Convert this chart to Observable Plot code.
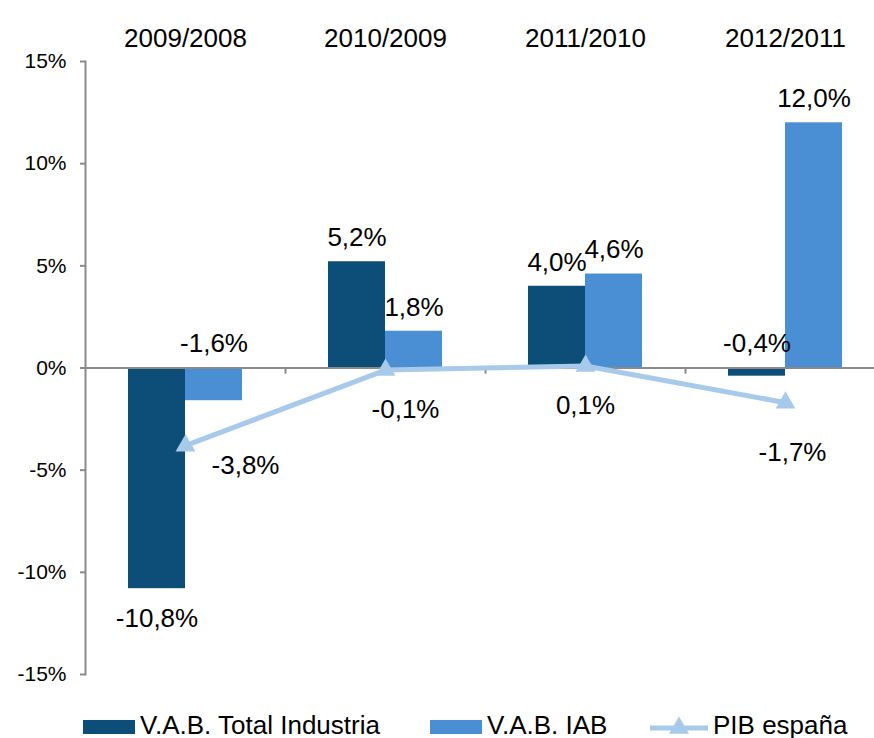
<!DOCTYPE html>
<html>
<head>
<meta charset="utf-8">
<script src="https://cdn.jsdelivr.net/npm/d3@7"></script>
<script src="https://cdn.jsdelivr.net/npm/@observablehq/plot@0.6"></script>
<style>
  html, body { margin: 0; padding: 0; background: #fff; overflow: hidden; }
  body { font-family: "Liberation Sans", Arial, sans-serif; width: 874px; height: 738px; }
  #legend { position: relative; height: 50px; font-size: 26px; color: #000; }
  .item { position: absolute; top: 0; height: 50px; display: flex; align-items: center; white-space: nowrap; }
  .item svg { margin-right: 5px; position: relative; top: 2px; }
</style>
</head>
<body>
<div id="chart"></div>
<div id="legend"></div>
<script>
const categories = ["2009/2008", "2010/2009", "2011/2010", "2012/2011"];
const vabIndustria = [-10.8, 5.2, 4.0, -0.4];
const vabIAB = [-1.6, 1.8, 4.6, 12.0];
const pibEspana = [-3.8, -0.1, 0.1, -1.7];
const yTicks = [-15, -10, -5, 0, 5, 10, 15];
const seriesNames = ["V.A.B. Total Industria", "V.A.B. IAB", "PIB españa"];

const colDark = "#0C4E78";
const colLight = "#4A8FD4";
const colLine = "#A7C9EA";
const colAxis = "#8A8A8A";
const font = "'Liberation Sans', Arial, sans-serif";

const rows = categories.map((c, i) => ({cat: c, ind: vabIndustria[i], iab: vabIAB[i], pib: pibEspana[i]}));
const fmt = v => v.toFixed(1).replace(".", ",") + "%";

// manual nudges of PIB labels (as placed in the reference)
const pibNudge = [[60, 20], [20, 40], [0, 40], [7, 50]];

const chart = Plot.plot({
  width: 874,
  height: 700,
  marginLeft: 85,
  marginRight: -11,
  marginTop: 61,
  marginBottom: 26,
  style: {fontFamily: font, color: "#000", background: "#fff"},
  x: {domain: categories, paddingInner: 0.43, paddingOuter: 0.215, round: false, axis: null},
  y: {domain: [-15, 15], axis: null},
  marks: [
    Plot.axisY({ticks: yTicks, tickFormat: d => d + "%", tickSize: 5, tickPadding: 14, fontSize: 21, stroke: colAxis, strokeWidth: 2, fill: "#000"}),
    Plot.frame({anchor: "left", stroke: colAxis, strokeWidth: 2}),
    Plot.barY(rows, {x: "cat", y: "ind", fill: colDark, insetRight: 57}),
    Plot.barY(rows, {x: "cat", y: "iab", fill: colLight, insetLeft: 57}),
    Plot.ruleY([0], {stroke: colAxis, strokeWidth: 2}),
    Plot.ruleX(categories.slice(1), {x: d => d, dx: -100, y1: 0, y2: -0.3, stroke: colAxis, strokeWidth: 2}),
    Plot.line(rows, {x: "cat", y: "pib", stroke: colLine, strokeWidth: 5}),
    Plot.dot(rows, {x: "cat", y: "pib", symbol: "triangle2", r: 9.5, fill: colLine, stroke: null}),
    // category labels on top
    Plot.text(categories, {x: d => d, frameAnchor: "top", dy: -33, fontSize: 26, fill: "#000"}),
    // bar labels
    Plot.text(rows, {filter: d => d.ind >= -5, x: "cat", y: d => Math.max(d.ind, 0), text: d => fmt(d.ind), dx: -28.5, dy: -24, fontSize: 26, fill: "#000"}),
    Plot.text(rows, {filter: d => d.ind < -5, x: "cat", y: "ind", text: d => fmt(d.ind), dx: -28.5, dy: 30, fontSize: 26, fill: "#000"}),
    Plot.text(rows, {filter: d => d.iab >= -5, x: "cat", y: d => Math.max(d.iab, 0), text: d => fmt(d.iab), dx: 28.5, dy: -24, fontSize: 26, fill: "#000"}),
    ...rows.map((r, i) => Plot.text([r], {x: "cat", y: "pib", text: d => fmt(d.pib), dx: pibNudge[i][0], dy: pibNudge[i][1], fontSize: 26, fill: "#000"}))
  ]
});
document.getElementById("chart").appendChild(chart);

// legend
const legend = document.getElementById("legend");
const lefts = [83, 430, 650];
const swatches = [
  `<svg width="52" height="14"><rect width="52" height="14" fill="${colDark}"/></svg>`,
  `<svg width="52" height="14"><rect width="52" height="14" fill="${colLight}"/></svg>`,
  `<svg width="58" height="22"><line x1="0" x2="58" y1="12" y2="12" stroke="${colLine}" stroke-width="5"/><path d="${d3.symbol(d3.symbolTriangle2, 286)()}" transform="translate(29,12)" fill="${colLine}"/></svg>`
];
seriesNames.forEach((name, i) => {
  const el = document.createElement("div");
  el.className = "item";
  el.style.left = lefts[i] + "px";
  el.innerHTML = swatches[i] + `<span>${name}</span>`;
  legend.appendChild(el);
});
</script>
</body>
</html>
